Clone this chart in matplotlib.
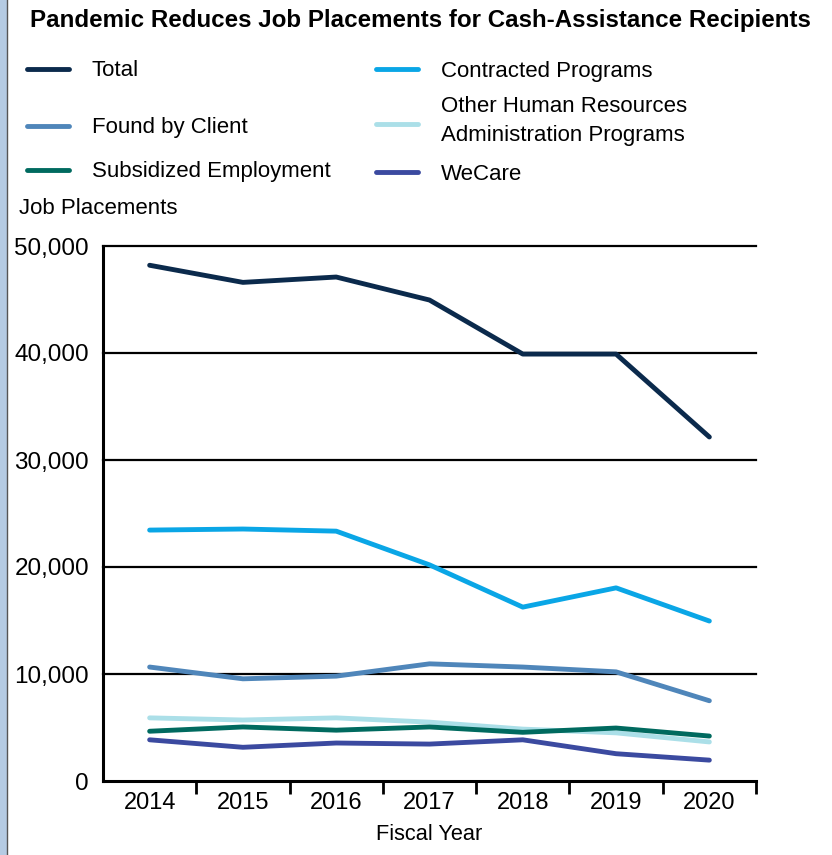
import matplotlib.pyplot as plt
from matplotlib.lines import Line2D
from matplotlib.patches import Rectangle
from matplotlib.ticker import FuncFormatter

plt.rcParams['font.family'] = ['Liberation Sans', 'DejaVu Sans']

# Datos
years = ["2014", "2015", "2016", "2017", "2018", "2019", "2020"]
total = [48200, 46600, 47100, 44950, 39900, 39900, 32150]
contracted = [23450, 23550, 23350, 20200, 16250, 18050, 14950]
found_by_client = [10650, 9550, 9800, 10950, 10650, 10200, 7500]
other_hra = [5900, 5700, 5900, 5500, 4850, 4500, 3650]
subsidized = [4650, 5050, 4750, 5050, 4550, 4950, 4200]
wecare = [3850, 3150, 3550, 3450, 3850, 2550, 1950]

series = [
    ("Total", total, "#0b2a4c"),
    ("Contracted Programs", contracted, "#0aa6e6"),
    ("Found by Client", found_by_client, "#4f86ba"),
    ("Other Human Resources\nAdministration Programs", other_hra, "#abdfe8"),
    ("Subsidized Employment", subsidized, "#006a5f"),
    ("WeCare", wecare, "#3b4aa0"),
]
# orden de dibujo (de abajo hacia arriba)
draw_order = [3, 4, 5, 2, 1, 0]

W, H = 832, 855
fig = plt.figure(figsize=(W / 100, H / 100), dpi=100)

def fx(px):
    return px / W

def fy(py):
    return 1 - py / H

ax = fig.add_axes([fx(103), fy(781), fx(756) - fx(103), fy(246) - fy(781)])

xs = [i + 0.5 for i in range(len(years))]
for i in draw_order:
    name, vals, color = series[i]
    ax.plot(xs, vals, color=color, lw=3.5, solid_capstyle="round",
            solid_joinstyle="round", clip_on=False, zorder=3)

ax.set_xlim(0, len(years))
ax.set_ylim(0, 50000)
ax.set_yticks(range(0, 50001, 10000))
ax.yaxis.set_major_formatter(FuncFormatter(lambda v, p: f"{int(v):,}"))
for v in range(10000, 50001, 10000):
    ax.axhline(v, color="black", lw=1.6, zorder=1, clip_on=False)

ax.set_xticks(range(1, len(years) + 1))
ax.set_xticklabels([])
ax.set_xticks(xs, minor=True)
ax.set_xticklabels(years, minor=True, fontsize=17)
ax.tick_params(axis="x", which="major", direction="out", length=9, width=2, color="black")
ax.tick_params(axis="x", which="minor", length=0, pad=8)
ax.tick_params(axis="y", length=0, pad=10, labelsize=17.5)

for s in ["top", "right"]:
    ax.spines[s].set_visible(False)
ax.spines["left"].set_linewidth(2.2)
ax.spines["bottom"].set_linewidth(2.2)

ax.set_xlabel("Fiscal Year", fontsize=15.7, labelpad=7)

# Título
fig.text(fx(30), fy(21), "Pandemic Reduces Job Placements for Cash-Assistance Recipients",
         fontsize=17.4, fontweight="bold", va="center", ha="left")

# Leyenda manual
legend_pos = [
    (27, 69, 92, 71),
    (376, 69, 441, 71),
    (27, 126, 92, 128),
    (376, 124, 441, 121),
    (27, 170, 92, 172),
    (376, 172, 441, 174),
]
for (name, vals, color), (lx, ly, tx, ty) in zip(series, legend_pos):
    fig.add_artist(Line2D([fx(lx), fx(lx + 42)], [fy(ly), fy(ly)], color=color,
                          lw=3.5, solid_capstyle="round", transform=fig.transFigure))
    fig.text(fx(tx), fy(ty), name, fontsize=16, va="center", ha="left",
             linespacing=1.5)

fig.text(fx(19), fy(209), "Job Placements", fontsize=16, va="center", ha="left")

# Borde izquierdo
fig.add_artist(Rectangle((0, 0), fx(6), 1, color="#b5cbe3", transform=fig.transFigure))
fig.add_artist(Line2D([fx(6.5), fx(6.5)], [0, 1], color="#555555", lw=1,
                      transform=fig.transFigure))

fig.savefig("out.png", dpi=100)
